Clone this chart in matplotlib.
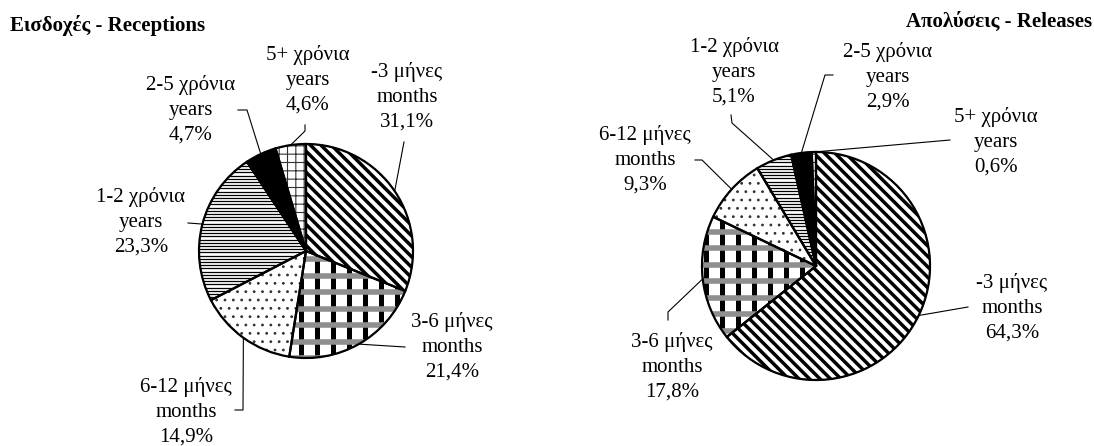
import numpy as np
import matplotlib
matplotlib.use('Agg')
import matplotlib.pyplot as plt
from matplotlib.patches import Wedge
from matplotlib.collections import LineCollection

W, H = 1094, 446

plt.rcParams['font.family'] = ['Liberation Serif', 'DejaVu Serif']
plt.rcParams['hatch.linewidth'] = 0.8

# data
categories = ['-3 μήνες\nmonths', '3-6 μήνες\nmonths', '6-12 μήνες\nmonths',
              '1-2 χρόνια\nyears', '2-5 χρόνια\nyears', '5+ χρόνια\nyears']
receptions = [31.1, 21.4, 14.9, 23.3, 4.7, 4.6]
releases = [64.3, 17.8, 9.3, 5.1, 2.9, 0.6]

# layout (pixels, y from top)
pies = [
    dict(values=receptions, center=(306, 251), r=107,
         title='Εισδοχές - Receptions', title_xy=(10, 25), title_ha='left',
         labels=[(407, 97), (452, 347), (186, 412), (141, 222), (191, 110), (308, 80)],
         elbows=[[(404, 142)], [(405, 347)], [(235, 410), (243, 410)],
                 [(188, 223)], [(238, 110), (247, 110)], [(305, 125), (305, 131)]]),
    dict(values=releases, center=(816, 266), r=114,
         title='Απολύσεις - Releases', title_xy=(1092, 22), title_ha='right',
         labels=[(1012, 308), (672, 367), (645, 160), (734, 72), (888, 77), (996, 142)],
         elbows=[[(968, 307)], [(668, 320), (668, 312)], [(695, 160), (702, 160)],
                 [(731, 115), (732, 123)], [(833, 75), (825, 75)], [(950, 140)]]),
]

faces = ['white', 'white', 'white', 'white', 'black', 'white']
hatches = ['', '', '..', '', '', '++']


def stripes(ax, clip, cx, cy, r, angle, spacing, lw, color='black', zorder=2):
    a = np.radians(angle)
    d = np.array([np.cos(a), np.sin(a)])
    n = np.array([-d[1], d[0]])
    segs = []
    for off in np.arange(-r, r + spacing, spacing):
        p = np.array([cx, cy]) + n * off
        segs.append([p - d * r * 1.2, p + d * r * 1.2])
    lc = LineCollection(segs, colors=color, linewidths=lw, capstyle='butt', zorder=zorder)
    ax.add_collection(lc)
    lc.set_clip_path(clip)


fig = plt.figure(figsize=(W / 100, H / 100), dpi=100)
ax = fig.add_axes([0, 0, 1, 1])

for p in pies:
    cx, cy = p['center'][0], H - p['center'][1]
    r = p['r']
    wedges, _ = ax.pie(p['values'], center=(cx, cy), radius=r, startangle=90,
                       counterclock=False, colors=faces, hatch=hatches,
                       wedgeprops=dict(edgecolor='#333333', linewidth=0.8))
    # -3 months: diagonal stripes
    stripes(ax, wedges[0], cx, cy, r, -45, 7.4, 2.5)
    # 3-6 months: black bars + grey bands
    stripes(ax, wedges[1], cx, cy, r, 90, 16, 3.6)
    stripes(ax, wedges[1], cx, cy, r, 0, 16.5, 4.0, color='#8f8f8f', zorder=3)
    # 1-2 years: dense horizontal lines
    stripes(ax, wedges[3], cx, cy, r, 0, 3.2, 0.9)

    for w in wedges:
        ax.add_patch(Wedge(w.center, w.r, w.theta1, w.theta2, fill=False,
                           edgecolor='black', linewidth=1.6, zorder=5))

    for i, w in enumerate(wedges):
        mid = np.radians((w.theta1 + w.theta2) / 2)
        edge = (cx + r * np.cos(mid), cy + r * np.sin(mid))
        pts = [(x, H - y) for x, y in p['elbows'][i]] + [edge]
        xs, ys = zip(*pts)
        ax.plot(xs, ys, color='black', lw=0.8, zorder=6)

        txt = categories[i] + '\n' + f'{p["values"][i]:.1f}%'.replace('.', ',')
        lx, ly = p['labels'][i]
        ax.text(lx, H - ly, txt, ha='center', va='center', multialignment='center',
                fontsize=15, linespacing=1.4, zorder=7)

    tx, ty = p['title_xy']
    ax.text(tx, H - ty, p['title'], ha=p['title_ha'], va='center',
            fontsize=15, fontweight='bold')

ax.set_xlim(0, W)
ax.set_ylim(0, H)
ax.set_aspect('equal')
ax.axis('off')

fig.savefig('out.png', dpi=100, facecolor='white')
